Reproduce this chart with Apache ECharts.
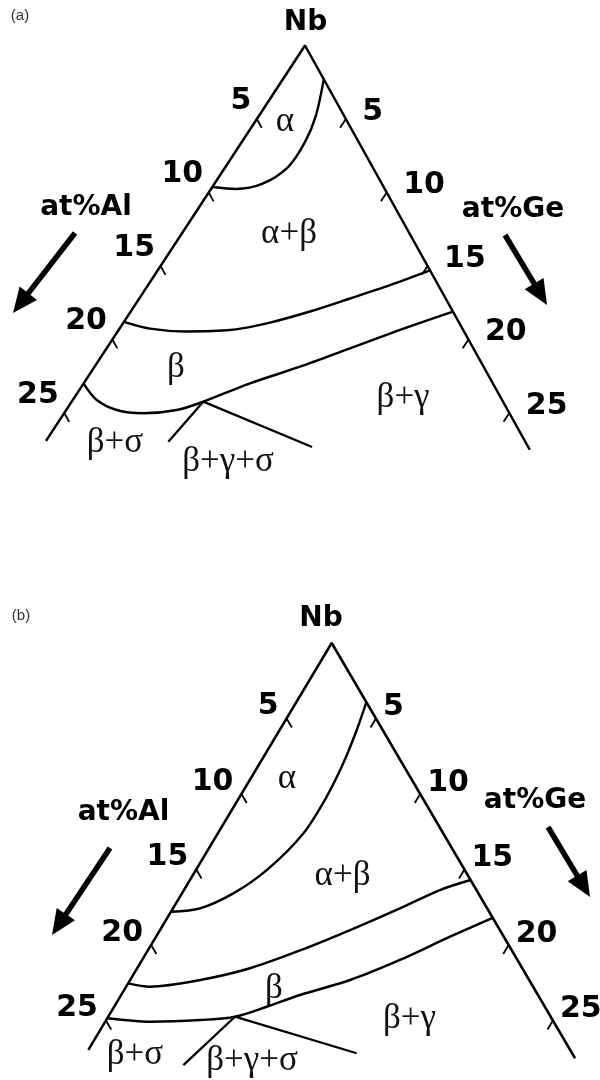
<!DOCTYPE html>
<html>
<head>
<meta charset="utf-8">
<script src="https://cdn.jsdelivr.net/npm/echarts@6/dist/echarts.min.js"></script>
<style>
  html, body { margin: 0; padding: 0; background: #fff; }
  #chart { width: 600px; height: 1080px; }
</style>
</head>
<body>
<div id="chart"></div>
<script>
// Nb-rich corner of the Nb–Al–Ge system, two isothermal sections.
// Every composition is written as [at% Al, at% Ge]; Nb makes up the rest.

const tickValues = [5, 10, 15, 20, 25];
const tickLabels = ['5', '10', '15', '20', '25'];

// ---- section (a) ----
const aEdgeAl = 26.9;
const aEdgeGe = 27.5;
const aAlphaBoundary = [[0, 2.3], [1.55, 3.18], [3.01, 3.55], [4.75, 3.52], [6.74, 2.68],
  [8.36, 1.4], [9.63, 0]];
const aBetaUpper = [[18.8, 0], [17.55, 1.71], [15.67, 3.78], [13.1, 6.26], [10.62, 8.23],
  [8.03, 10.07], [5.37, 11.84], [2.71, 13.59], [0, 15.3]];
const aBetaLower = [[23.0, 0], [22.77, 1.35], [21.96, 2.84], [20.57, 4.45], [18.59, 6.21],
  [16.84, 7.39], [13.64, 9.34], [10.31, 11.54], [6.93, 13.67], [3.55, 15.8], [0, 18.1]];
const aTriplePoint = [16.84, 7.39];
const aThreePhaseEnds = [[20.05, 6.9], [12.14, 15.17]];
const aPhaseNames = ['α', 'α+β', 'β', 'β+γ', 'β+σ', 'β+γ+σ'];
const aPhaseAt = [[3.51, 1.69], [6.77, 6.02], [17.32, 4.62], [5.5, 18.48], [23.09, 3.95], [17.33, 11.0]];

// ---- section (b) ----
const bEdgeAl = 26.95;
const bEdgeGe = 27.5;
const bAlphaBoundary = [[0, 3.92], [1.45, 4.31], [3.3, 4.67], [5.32, 4.86], [7.83, 4.78],
  [11.08, 3.96], [13.71, 2.87], [16.06, 1.51], [17.8, 0]];
const bBetaUpper = [[22.54, 0], [21.43, 1.33], [18.41, 3.91], [15.23, 6.31], [11.85, 8.51],
  [8.38, 10.63], [4.88, 12.69], [2.04, 14.32], [0, 15.7]];
const bBetaLower = [[24.85, 0], [22.57, 2.51], [19.72, 5.25], [17.66, 7.09], [15.56, 8.53],
  [13.31, 10.0], [10.02, 12.3], [6.57, 14.42], [3.01, 16.44], [0, 18.2]];
const bTriplePoint = [17.66, 7.09];
const bThreePhaseEnds = [[22.13, 5.82], [12.05, 15.12]];
const bPhaseNames = ['α', 'α+β', 'β', 'β+γ', 'β+σ', 'β+γ+σ'];
const bPhaseAt = [[6.94, 2.03], [7.03, 8.4], [14.57, 8.34], [7.97, 16.93], [24.51, 2.77], [18.16, 9.52]];

// Projection of each section: apex position, px per at%, and the horizontal run
// of the Al and Ge edges per unit depth.
const panels = [
  { apexX: 305, apexY: 45.5, scale: 14.7, slopeL: 0.655, slopeR: 0.556, xMin: -20, xMax: 20, yMax: 30,
    leftLabelOffset: [0, -18], rightLabelOffset: [11, -7],
    edge: [aEdgeAl, aEdgeGe], alpha: aAlphaBoundary, upper: aBetaUpper, lower: aBetaLower,
    triple: aTriplePoint, threeEnds: aThreePhaseEnds, names: aPhaseNames, namesAt: aPhaseAt },
  { apexX: 331.7, apexY: 643, scale: 15.1, slopeL: 0.598, slopeR: 0.586, xMin: -20, xMax: 17.5, yMax: 28,
    leftLabelOffset: [-2.5, -12], rightLabelOffset: [1.5, -11],
    edge: [bEdgeAl, bEdgeGe], alpha: bAlphaBoundary, upper: bBetaUpper, lower: bBetaLower,
    triple: bTriplePoint, threeEnds: bThreePhaseEnds, names: bPhaseNames, namesAt: bPhaseAt }
];

const INK = '#000000';
const BOLD_FONT = 'DejaVu Sans';
const SERIF_FONT = 'Liberation Serif';

const grids = [], xAxes = [], yAxes = [], series = [];

panels.forEach((P, i) => {
  const proj = c => [P.slopeR * c[1] - P.slopeL * c[0], c[0] + c[1]];
  grids.push({
    left: P.apexX + P.xMin * P.scale,
    top: P.apexY,
    width: (P.xMax - P.xMin) * P.scale,
    height: P.yMax * P.scale,
    outerBoundsMode: 'none',
    containLabel: false
  });
  xAxes.push({ type: 'value', gridIndex: i, min: P.xMin, max: P.xMax, show: false });
  yAxes.push({ type: 'value', gridIndex: i, min: 0, max: P.yMax, inverse: true, show: false });

  const line = (pts, width, smooth) => ({
    type: 'line', xAxisIndex: i, yAxisIndex: i, data: pts.map(proj),
    symbol: 'none', smooth: smooth || false, clip: false, silent: true, animation: false,
    lineStyle: { color: INK, width: width, opacity: 1 }
  });

  // binary edges Nb–Al and Nb–Ge
  series.push(line([[P.edge[0], 0], [0, 0], [0, P.edge[1]]], 2.5));
  // ticks parallel to the opposite edge
  tickValues.forEach(n => {
    series.push(line([[n, 0], [n, 0.6]], 1.8));
    series.push(line([[0, n], [0.6, n]], 1.8));
  });
  // phase boundaries
  series.push(line(P.alpha, 2.4, 0.3));
  series.push(line(P.upper, 2.5, 0.3));
  series.push(line(P.lower, 2.5, 0.3));
  P.threeEnds.forEach(e => series.push(line([P.triple, e], 2.3)));

  const textLayer = (pts, names, position, offset, font) => ({
    type: 'scatter', xAxisIndex: i, yAxisIndex: i, silent: true, animation: false, clip: false,
    symbolSize: 1, itemStyle: { color: 'rgba(0,0,0,0)', opacity: 1 },
    data: pts.map((c, k) => ({ value: proj(c), name: names[k] })),
    label: Object.assign({
      show: true, position: position, offset: offset, distance: 5,
      formatter: p => p.name, color: INK, opacity: 1
    }, font)
  });
  const boldFont = { fontFamily: BOLD_FONT, fontWeight: 'bold', fontSize: 30 };
  series.push(textLayer(tickValues.map(n => [n, 0]), tickLabels, 'left', P.leftLabelOffset, boldFont));
  series.push(textLayer(tickValues.map(n => [0, n]), tickLabels, 'right', P.rightLabelOffset, boldFont));
  series.push(textLayer(P.namesAt, P.names, 'inside', [0, 0],
    { fontFamily: SERIF_FONT, fontSize: 35, color: '#111' }));
});

// direction arrows beside the axis titles
function arrow(x1, y1, x2, y2) {
  const L = Math.hypot(x2 - x1, y2 - y1), ux = (x2 - x1) / L, uy = (y2 - y1) / L;
  const hl = 25, hw = 11;
  const bx = x2 - ux * hl, by = y2 - uy * hl;
  return [
    { type: 'line', silent: true, shape: { x1: x1, y1: y1, x2: bx + ux * 3, y2: by + uy * 3 },
      style: { stroke: INK, lineWidth: 5.5 } },
    { type: 'polygon', silent: true,
      shape: { points: [[x2, y2], [bx - uy * hw, by + ux * hw], [bx + uy * hw, by - ux * hw]] },
      style: { fill: INK } }
  ];
}
function text(str, x, y, font, color) {
  return { type: 'text', silent: true, x: x, y: y,
    style: { text: str, font: font, fill: color || INK, align: 'center', verticalAlign: 'middle',
      textAlign: 'center', textVerticalAlign: 'middle' } };
}
const titleFont = 'bold 28px "DejaVu Sans"';
const tagFont = '15px "Liberation Sans"';

const graphic = [].concat(
  text('(a)', 20, 16, tagFont, '#333'),
  text('Nb', 305.5, 23, titleFont),
  text('at%Al', 86, 208, titleFont),
  text('at%Ge', 513, 210, titleFont),
  arrow(75, 233, 13, 313),
  arrow(505, 235, 547, 305),
  text('(b)', 21, 616, tagFont, '#333'),
  text('Nb', 321, 619, titleFont),
  text('at%Al', 123.5, 813, titleFont),
  text('at%Ge', 535, 801, titleFont),
  arrow(110, 848, 52, 935),
  arrow(548, 827, 590, 897)
);

const chart = echarts.init(document.getElementById('chart'), null, { renderer: 'canvas' });
chart.setOption({
  backgroundColor: '#ffffff',
  animation: false,
  grid: grids,
  xAxis: xAxes,
  yAxis: yAxes,
  series: series,
  graphic: graphic
});
</script>
</body>
</html>
